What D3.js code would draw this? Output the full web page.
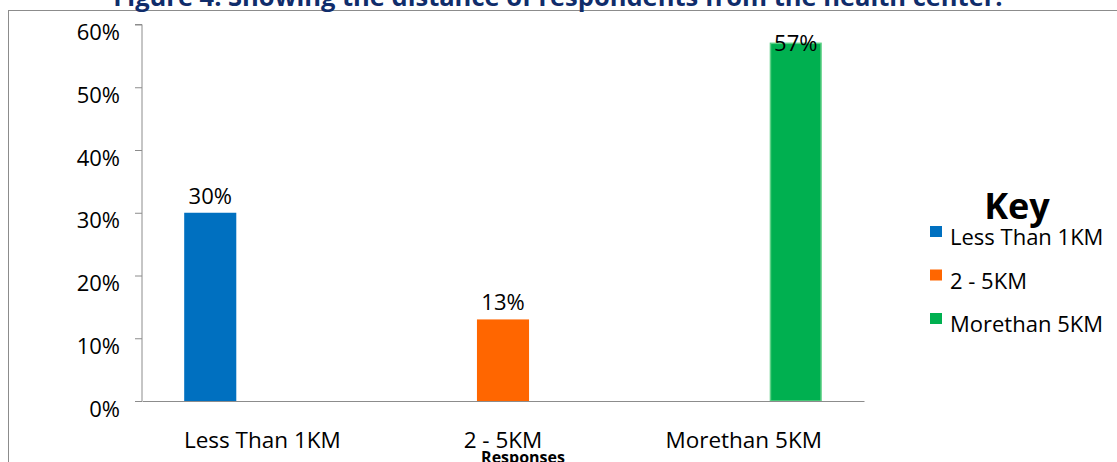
<!DOCTYPE html>
<html>
<head>
<meta charset="utf-8">
<script src="https://cdn.jsdelivr.net/npm/d3@7"></script>
<style>
  html, body { margin: 0; padding: 0; background: #fff; }
  svg { display: block; }
  text { font-family: "Open Sans", "Noto Sans", sans-serif; fill: #000; }
</style>
</head>
<body>
<svg id="chart" width="1117" height="462"></svg>
<script>
// ---- data ----
const title = "Figure 4: Showing the distance of respondents from the health center.";
const categories = ["Less Than 1KM", "2 - 5KM", "Morethan 5KM"];
const seriesNames = ["Less Than 1KM", "2 - 5KM", "Morethan 5KM"];
const seriesColors = ["#0070C0", "#FF6600", "#00B050"];
// each series only has a value in its own category
const seriesLessThan1 = [0.30, 0, 0];
const series2to5 = [0, 0.13, 0];
const seriesMore5 = [0, 0, 0.57];
const seriesValues = [seriesLessThan1, series2to5, seriesMore5];
const yTicks = [0, 0.1, 0.2, 0.3, 0.4, 0.5, 0.6];
const xTitle = "Responses";
const legendTitle = "Key";

// ---- layout ----
const svg = d3.select("#chart");
const plot = { left: 142, right: 864, top: 24.5, bottom: 401 };

// outer border (extends past right/bottom edge)
svg.append("rect")
  .attr("x", 8.5).attr("y", 10.5)
  .attr("width", 1200).attr("height", 500)
  .attr("fill", "none").attr("stroke", "#8c8c8c").attr("stroke-width", 1);

// title (partly cut at top)
svg.append("text")
  .attr("x", 558).attr("y", 6)
  .attr("text-anchor", "middle")
  .style("font-weight", "bold").style("font-size", "25.5px")
  .style("fill", "#102d6b")
  .text(title);

const x0 = d3.scaleBand().domain(categories).range([plot.left, plot.right]).paddingInner(0).paddingOuter(0);
const x1 = d3.scaleBand().domain(seriesNames).range([0, x0.bandwidth()]).paddingInner(0).paddingOuter(0.81);
const y = d3.scaleLinear().domain([0, 0.6]).range([plot.bottom, plot.top]);

// y axis
const yAxis = svg.append("g").attr("transform", `translate(${plot.left},0)`)
  .call(d3.axisLeft(y).tickValues(yTicks).tickFormat(d3.format(".0%")).tickSize(7).tickPadding(15));
yAxis.select(".domain").attr("stroke", "#8c8c8c").attr("d", `M-7,${y(0.6)}H0V${y(0)}`);
yAxis.selectAll(".tick line").attr("stroke", "#8c8c8c");
yAxis.selectAll(".tick text").style("font-size", "22px").attr("dy", "15px")
  .style("font-family", "'Open Sans', sans-serif").attr("fill", "#000");

// bars
const groups = svg.append("g");
seriesValues.forEach((vals, si) => {
  categories.forEach((c, ci) => {
    const v = vals[ci];
    if (!v) return;
    const bx = x0(c) + x1(seriesNames[si]);
    const rect = groups.append("rect")
      .attr("x", bx).attr("y", y(v))
      .attr("width", x1.bandwidth()).attr("height", y(0) - y(v))
      .attr("fill", seriesColors[si]);
    if (si === 2) {
      rect.attr("stroke", "#5ccf85").attr("stroke-width", 1.5)
        .attr("x", bx + 0.75).attr("width", x1.bandwidth() - 1.5);
    }
    const labelY = Math.max(y(v) - 9, y(0.6) + 26.5);
    svg.append("text")
      .attr("x", bx + x1.bandwidth() / 2).attr("y", labelY)
      .attr("text-anchor", "middle").style("font-size", "22px")
      .text(d3.format(".0%")(v));
  });
});

// x axis
const xAxis = svg.append("g").attr("transform", `translate(0,${plot.bottom})`)
  .call(d3.axisBottom(x0).tickSize(0).tickPadding(0));
xAxis.select(".domain").attr("stroke", "#8c8c8c");
xAxis.selectAll(".tick text").style("font-size", "22.5px").attr("dy", 0).attr("y", 47)
  .style("font-family", "'Open Sans', sans-serif").attr("fill", "#000");

// x title
svg.append("text")
  .attr("x", 523).attr("y", 463)
  .attr("text-anchor", "middle")
  .style("font-weight", "bold").style("font-size", "16px")
  .text(xTitle);

// legend
const legend = svg.append("g");
legend.append("text")
  .attr("x", 1017).attr("y", 219)
  .attr("text-anchor", "middle")
  .style("font-weight", "bold").style("font-size", "36px")
  .text(legendTitle);
seriesNames.forEach((s, i) => {
  const baseY = 245 + i * 43.5;
  legend.append("rect")
    .attr("x", 930).attr("y", baseY - 19)
    .attr("width", 12).attr("height", 11)
    .attr("fill", seriesColors[i]);
  legend.append("text")
    .attr("x", 950).attr("y", baseY)
    .style("font-size", "22px")
    .text(s);
});
</script>
</body>
</html>
